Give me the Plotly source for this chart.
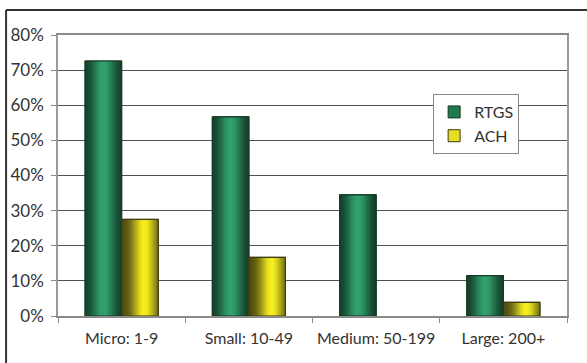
import math
import plotly.graph_objects as go

# Share of firms using each payment system, by firm size
categories = ["Micro: 1-9", "Small: 10-49", "Medium: 50-199", "Large: 200+"]
rtgs = [0.726, 0.567, 0.345, 0.115]
ach = [0.275, 0.167, None, 0.039]

y_ticks = [0, 0.1, 0.2, 0.3, 0.4, 0.5, 0.6, 0.7, 0.8]

FONT = "Lato"
BAR_W = 0.287      # width of one bar in category units
N_STRIPS = 16      # vertical strips used to shade each bar like a cylinder


def mix(dark, light, t):
    return "rgb(%d,%d,%d)" % tuple(round(d + (l - d) * t) for d, l in zip(dark, light))


def shade(s, peak):
    return math.exp(-((s - peak) / 0.33) ** 2)


series = [
    dict(name="RTGS", values=rtgs, start=-BAR_W, dark=(16, 52, 34), light=(50, 160, 110),
         peak=0.5, edge="#163a26", legend="#1f7a50"),
    dict(name="ACH", values=ach, start=0.0, dark=(72, 70, 18), light=(246, 238, 30),
         peak=0.62, edge="#3d3a10", legend="#e6de22"),
]

fig = go.Figure()

for s in series:
    # base bar (also the legend entry)
    fig.add_trace(go.Bar(
        x=categories, y=s["values"], name=s["name"], width=BAR_W, offset=s["start"],
        marker=dict(color=s["legend"], line=dict(color=s["edge"], width=1)),
        showlegend=True, hoverinfo="skip",
    ))
    # shading strips
    step = BAR_W / N_STRIPS
    for k in range(N_STRIPS):
        pos = (k + 0.5) / N_STRIPS
        fig.add_trace(go.Bar(
            x=categories, y=s["values"], width=min(step * 1.4, BAR_W - k * step),
            offset=s["start"] + k * step,
            marker=dict(color=mix(s["dark"], s["light"], shade(pos, s["peak"])), line=dict(width=0)),
            showlegend=False, hoverinfo="skip",
        ))
    # outline on top
    fig.add_trace(go.Bar(
        x=categories, y=s["values"], width=BAR_W, offset=s["start"],
        marker=dict(color="rgba(0,0,0,0)", line=dict(color=s["edge"], width=1.2)),
        showlegend=False, hoverinfo="skip",
    ))

# outer frame around the chart
fig.add_shape(type="line", xref="paper", yref="paper", x0=-0.102, x1=1.1, y0=1.089, y1=1.089,
              line=dict(color="#333333", width=2))
fig.add_shape(type="line", xref="paper", yref="paper", x0=-0.102, x1=-0.102, y0=1.089, y1=-0.3,
              line=dict(color="#333333", width=2))

fig.update_layout(
    width=587, height=363,
    margin=dict(l=58, r=20, t=35, b=47, autoexpand=False),
    barmode="overlay",
    paper_bgcolor="white", plot_bgcolor="white",
    font=dict(family=FONT, size=16, color="#333333"),
    showlegend=True,
    legend=dict(
        x=0.737, y=0.79, xanchor="left", yanchor="top",
        bgcolor="white", bordercolor="#888888", borderwidth=1,
        font=dict(family=FONT, size=16, color="#333333"),
        traceorder="normal", itemwidth=30, tracegroupgap=0,
    ),
    xaxis=dict(
        type="category", showgrid=False, showline=True, linecolor="#8a8a8a", linewidth=1.5,
        mirror=True,
        ticks="outside", tickson="boundaries", ticklen=5, tickcolor="#8a8a8a",
        tickangle=0, automargin=False,
        ticklabelstandoff=7, tickfont=dict(size=16, color="#333333"),
    ),
    yaxis=dict(
        range=[0, 0.8], tickvals=y_ticks, tickformat=".0%", automargin=False,
        showgrid=True, gridcolor="#505050", gridwidth=1.2,
        showline=True, linecolor="#9a9a9a", linewidth=1.5, mirror=True,
        ticks="outside", ticklen=5, tickcolor="#8a8a8a",
        ticklabelstandoff=4, tickfont=dict(size=17, color="#333333"), zeroline=False,
    ),
)

fig.write_html("out.html")
